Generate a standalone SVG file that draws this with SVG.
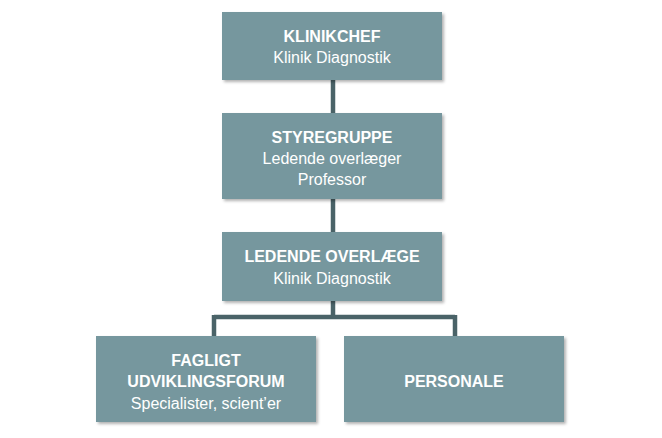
<svg xmlns="http://www.w3.org/2000/svg" width="662" height="438" viewBox="0 0 662 438">
<defs>
<filter id="sh" x="-10%" y="-10%" width="130%" height="130%"><feDropShadow dx="2" dy="2" stdDeviation="1.5" flood-color="#000" flood-opacity="0.3"/></filter>
<style>
.b{fill:#76979E;filter:url(#sh)}
.t{font-family:"Liberation Sans",Arial,sans-serif;font-size:16px;fill:#fff;text-anchor:middle}
.h{font-weight:bold}
.c{stroke:#4A6368;stroke-width:4.5;fill:none}
</style>
</defs>
<rect width="662" height="438" fill="#fff"/>
<g id="connectors">
<path class="c" d="M333 80V113M333 199V232M333 301V317M214 317H455M214 315V336M455 315V336"/>
</g>
<g id="klinikchef"><rect class="b" x="222" y="12" width="220" height="68"/>
<text class="t h" x="332" y="42">KLINIKCHEF</text><text class="t" x="332" y="63">Klinik Diagnostik</text></g>
<g id="styregruppe"><rect class="b" x="222" y="113" width="220" height="86"/>
<text class="t h" x="332" y="143">STYREGRUPPE</text><text class="t" x="332" y="164">Ledende overlæger</text><text class="t" x="332" y="185">Professor</text></g>
<g id="ledende"><rect class="b" x="222" y="232" width="220" height="69"/>
<text class="t h" x="332" y="262">LEDENDE OVERLÆGE</text><text class="t" x="332" y="284">Klinik Diagnostik</text></g>
<g id="forum"><rect class="b" x="96" y="336" width="220" height="86"/>
<text class="t h" x="206" y="366">FAGLIGT</text><text class="t h" x="206" y="387">UDVIKLINGSFORUM</text><text class="t" x="206" y="409">Specialister, scient’er</text></g>
<g id="personale"><rect class="b" x="344" y="336" width="220" height="86"/>
<text class="t h" x="454" y="387">PERSONALE</text></g>
</svg>
